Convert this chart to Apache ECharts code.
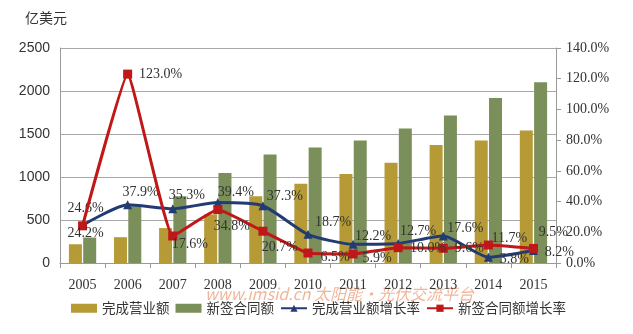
<!DOCTYPE html>
<html><head><meta charset="utf-8">
<script src="https://cdn.jsdelivr.net/npm/echarts@6/dist/echarts.min.js"></script>
<style>html,body{margin:0;padding:0;background:#fff;}#c{width:633px;height:334px;}</style>
</head><body><div id="c"></div>
<script>
var years = ['2005','2006','2007','2008','2009','2010','2011','2012','2013','2014','2015'];
var turnover = [218, 300, 406, 566, 777, 922, 1034, 1166, 1371, 1424, 1541];
var newContracts = [296, 660, 776, 1046, 1262, 1344, 1423, 1565, 1716, 1918, 2101];
var turnoverGrowth = [24.6, 37.9, 35.3, 39.4, 37.3, 18.7, 12.2, 12.7, 17.6, 3.8, 8.2];
var contractGrowth = [24.2, 123.0, 17.6, 34.8, 20.7, 6.5, 5.9, 10.0, 9.6, 11.7, 9.5];
var leftTicks = [0, 500, 1000, 1500, 2000, 2500];
var rightTicks = [0, 20, 40, 60, 80, 100, 120, 140];

var blueOff = [[3,-17],[13,-12],[14,-13],[18,-10],[22,-9],[25,-12],[20,-8],[20,-12],[22,-8],[26,2],[26,2]];
var redOff = [[3,7],[33,0],[17,8],[14,17],[17,16],[27,4],[24,4],[30,1],[26,0],[21,-7],[20,-16]];

function withLabels(vals, offs){
  return vals.map(function(v,i){
    return {value:v, label:{show:true, position:'inside', offset:offs[i],
      formatter: v.toFixed(1)+'%', fontFamily:'Liberation Serif', fontSize:14, color:'#333'}};
  });
}
var serif = 'Liberation Serif';
var chart = echarts.init(document.getElementById('c'));
chart.setOption({
  animation:false,
  backgroundColor:'#fff',
  grid:{left:60, right:77, top:48, bottom:71},
  graphic:[
    {type:'text', left:25, top:11, style:{text:'亿美元', font:'14px "Noto Sans CJK SC"', fill:'#333'}},
    {type:'text', left:205, top:286, z:-1, style:{text:'www.imsid.cn 太阳能·光伏交流平台', font:'italic 16px "Noto Sans CJK SC"', fill:'rgba(230,120,70,0.55)'}}
  ],
  legend:{bottom:14, left:66, itemWidth:26, itemHeight:9, itemGap:6,
    textStyle:{fontFamily:'Noto Sans CJK SC', fontSize:13.5, color:'#333'},
    data:[
      {name:'完成营业额', icon:'rect'},
      {name:'新签合同额', icon:'rect'},
      {name:'完成营业额增长率'},
      {name:'新签合同额增长率'}
    ]},
  xAxis:{type:'category', data:years,
    axisLine:{lineStyle:{color:'#999'}},
    axisTick:{show:true, length:5, lineStyle:{color:'#999'}},
    axisLabel:{fontFamily:serif, fontSize:14, color:'#333', margin:15}},
  yAxis:[
    {type:'value', min:leftTicks[0], max:leftTicks[leftTicks.length-1], interval:500,
      axisLine:{show:true, lineStyle:{color:'#999'}},
      axisTick:{show:false},
      splitLine:{lineStyle:{color:'#A8A8A8', width:1}},
      axisLabel:{fontFamily:'Liberation Sans', fontSize:14, color:'#333', margin:10,
        formatter:function(v){return String(v);}}},
    {type:'value', min:rightTicks[0], max:rightTicks[rightTicks.length-1], interval:20, position:'right',
      axisLine:{show:true, lineStyle:{color:'#999'}},
      axisTick:{show:true, length:5, lineStyle:{color:'#999'}},
      splitLine:{show:false},
      axisLabel:{fontFamily:serif, fontSize:14, color:'#333', margin:10,
        formatter:function(v){return v.toFixed(1)+'%';}}}
  ],
  series:[
    {name:'完成营业额', type:'bar', data:turnover, barWidth:13, barGap:'10%',
      itemStyle:{color:'#B59A35'}},
    {name:'新签合同额', type:'bar', data:newContracts, barWidth:13,
      itemStyle:{color:'#7B8F5A'}},
    {name:'完成营业额增长率', type:'line', yAxisIndex:1, data:withLabels(turnoverGrowth, blueOff),
      smooth:0.2, symbol:'triangle', symbolSize:9, z:5,
      lineStyle:{color:'#233B73', width:3}, itemStyle:{color:'#233B73'}},
    {name:'新签合同额增长率', type:'line', yAxisIndex:1, data:withLabels(contractGrowth, redOff),
      smooth:0.1, symbol:'rect', symbolSize:9, z:6,
      lineStyle:{color:'#C01818', width:3}, itemStyle:{color:'#C01818'}}
  ]
});
</script></body></html>
